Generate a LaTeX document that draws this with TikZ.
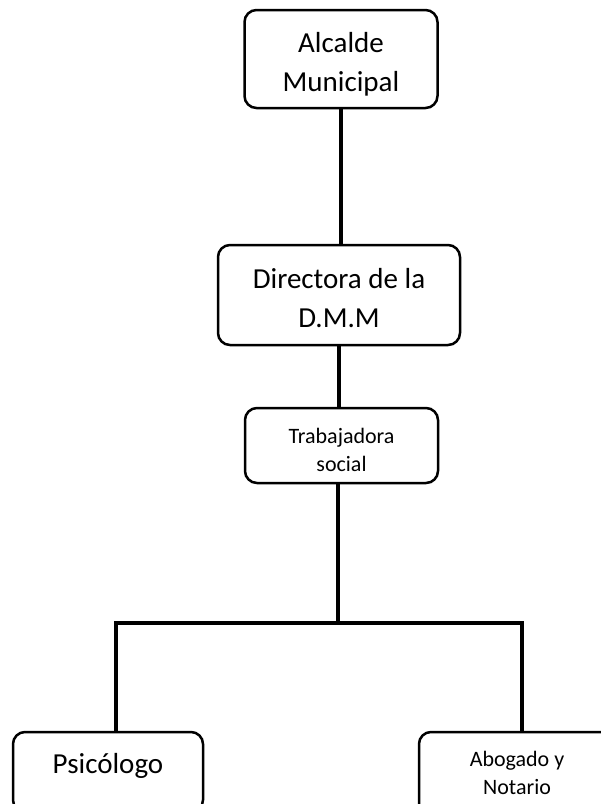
\documentclass[tikz,border=0pt]{standalone}
\usepackage{fontspec}
\setmainfont{Carlito}
\usepackage{tikz}
\usetikzlibrary{positioning}

\tikzset{
  cargo/.style={draw, line width=2.5pt, rounded corners=12pt, align=center, inner sep=0pt,
    font=\fontsize{29}{39}\selectfont, text height=70pt, text depth=6pt},
  cargochico/.style={cargo, font=\fontsize{22}{28}\selectfont, text height=53pt, text depth=2pt},
  linea/.style={line width=3.5pt}
}

\begin{document}
\begin{tikzpicture}[x=1pt,y=-1pt]
\useasboundingbox (0,0) rectangle (601,804);
\node[cargo, minimum width=193pt, minimum height=98pt] (alcalde) at (341,59) {Alcalde\\Municipal};
\node[cargo, minimum width=242pt, minimum height=100pt] (directora) at (339,295) {Directora de la\\D.M.M};
\node[cargochico, minimum width=193pt, minimum height=75pt] (trabajadora) at (341.5,445.5) {Trabajadora\\social};
\node[cargo, minimum width=190pt, minimum height=80pt, text height=20pt, text depth=18pt] (psicologo) at (108,772) {Psicólogo};
\node[cargochico, minimum width=196pt, minimum height=86pt, text height=40pt] (abogado) at (517,775) {Abogado y\\Notario};
\coordinate (rama) at (338,623);
\coordinate (izq) at (116,623);
\coordinate (der) at (522,623);
% lineas de mando
\draw[linea] (alcalde.south) -- (alcalde.south |- directora.north);
\draw[linea] (directora.south) -- (directora.south |- trabajadora.north);
\draw[linea] (rama |- trabajadora.south) -- (rama);
\draw[linea] (izq |- psicologo.north) -- (izq) -- (der) -- (der |- abogado.north);
\end{tikzpicture}
\end{document}
